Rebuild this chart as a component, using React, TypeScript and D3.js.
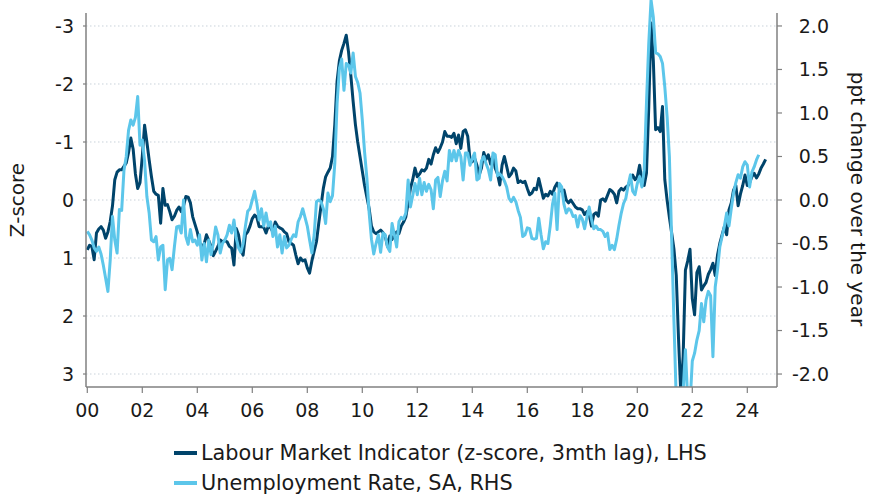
import React from "react";
import * as d3 from "d3";

const START_YEAR = 2000;

// Labour Market Indicator (z-score, 3mth lag), monthly from Jan 2000
const lmi: number[] = [
  0.86, 0.78, 0.8, 1.03, 0.57, 0.5, 0.46, 0.52, 0.66, 0.55, 0.37, 0.1,
  -0.35, -0.48, -0.52, -0.52, -0.58, -0.64, -0.82, -1.07, -0.88, -0.45, -0.2, -0.3,
  -0.75, -1.29, -1.0, -0.69, -0.4, -0.15, -0.1, -0.08, 0.4, -0.2, 0.09, 0.08,
  0.2, 0.34, 0.28, 0.18, 0.12, 0.2, 0.1, -0.06, -0.05, 0.05, 0.29, 0.42,
  0.55, 0.74, 0.8, 0.76, 0.6, 0.7, 0.8, 0.96, 0.88, 0.8, 0.69, 0.72,
  0.7, 0.72, 0.8, 0.83, 1.12, 0.49, 0.6, 0.86, 0.95, 0.6, 0.55, 0.45,
  0.32, 0.26, 0.3, 0.46, 0.46, 0.47, 0.57, 0.45, 0.48, 0.55, 0.38, 0.45,
  0.48, 0.5, 0.55, 0.58, 0.72, 0.75, 0.78, 0.95, 1.1, 1.0, 1.05, 1.03,
  1.17, 1.26, 1.05, 0.88, 0.72, 0.4, 0.1, -0.2, -0.4, -0.48, -0.55, -0.75,
  -1.3, -2.05, -2.4, -2.58, -2.7, -2.84, -2.55, -2.15, -1.7, -1.3, -1.0, -0.75,
  -0.5, -0.25, -0.05, 0.15, 0.45, 0.55, 0.58, 0.55, 0.52, 0.56, 0.62, 0.8,
  0.62, 0.68, 0.6, 0.55, 0.58, 0.45, 0.38, 0.29, 0.05, -0.2, -0.35, -0.55,
  -0.4, -0.45, -0.52, -0.5, -0.55, -0.7, -0.62, -0.78, -0.9, -0.82, -0.9, -1.0,
  -1.18, -1.1, -1.1, -1.08, -1.15, -0.97, -1.12, -0.89, -1.18, -1.21, -1.1, -0.7,
  -0.66, -0.72, -0.6, -0.43, -0.55, -0.82, -0.7, -0.78, -0.62, -0.75, -0.55, -0.45,
  -0.26, -0.6, -0.75, -0.58, -0.4, -0.45, -0.55, -0.5, -0.3, -0.33, -0.3, -0.32,
  -0.2, -0.09, -0.12, -0.2, -0.18, -0.37, -0.2, -0.03, -0.1, -0.07, -0.15, -0.1,
  -0.22, -0.29, -0.2, -0.15, -0.17, 0.0, 0.05, 0.0, 0.06, 0.12, 0.15, 0.15,
  0.17, 0.25, 0.2, 0.25, 0.45, 0.25, 0.22, 0.28, 0.0, -0.02, 0.02, -0.08,
  -0.18, -0.15, -0.1, 0.05, -0.15, -0.2, -0.17, -0.22, -0.25, -0.35, -0.43, -0.35,
  -0.4, -0.6, -0.34, -0.25, -0.46, -1.6, -3.05, -2.4, -1.21, -1.25, -1.18, -1.61,
  -0.35, 0.0, 0.3, 0.57, 0.85, 1.3, 2.4, 3.35, 2.7, 1.21, 1.05, 0.85,
  1.7, 1.98, 1.25, 1.15, 1.55, 1.48, 1.42, 1.28, 1.2, 1.09, 1.3, 0.95,
  0.75, 0.6, 0.46, 0.6, 0.17, 0.05, -0.17, -0.25, 0.1, -0.1, -0.25, -0.43,
  -0.25, -0.3, -0.4, -0.46, -0.38, -0.45, -0.55, -0.62, -0.7,
];

// Unemployment rate, SA, ppt change over the year, monthly from Jan 2000
const unemp: number[] = [
  -0.36, -0.4, -0.46, -0.55, -0.59, -0.54, -0.62, -0.75, -0.9, -1.05, -0.69, -0.19,
  -0.46, -0.61, -0.11, -0.12, 0.34, 0.5, 0.8, 0.92, 0.86, 0.95, 1.19, 0.63,
  0.69, 0.45, 0.04, -0.15, -0.46, -0.48, -0.42, -0.69, -0.54, -0.52, -1.03, -0.69,
  -0.67, -0.8, -0.54, -0.31, -0.3, -0.38, 0.0, -0.42, -0.51, -0.34, -0.48, -0.46,
  -0.52, -0.4, -0.69, -0.5, -0.71, -0.46, -0.63, -0.5, -0.31, -0.4, -0.61, -0.5,
  -0.46, -0.4, -0.29, -0.38, -0.23, -0.44, -0.55, -0.6, -0.5, -0.3, -0.13, -0.1,
  0.0, 0.1, -0.04, -0.23, -0.1, -0.3, -0.15, -0.3, -0.25, -0.42, -0.3, -0.54,
  -0.4, -0.61, -0.42, -0.55, -0.52, -0.45, -0.4, -0.42, -0.25, -0.19, -0.1, -0.2,
  -0.3, -0.46, -0.61, -0.4, -0.02, 0.0, -0.02, -0.1, -0.27, 0.08, -0.02, 0.05,
  0.42, 1.11, 1.51, 1.62, 1.26, 1.57, 1.55, 1.46, 1.69, 1.42, 1.35, 1.23,
  0.92, 0.55, 0.25, -0.15, -0.45, -0.62, -0.5, -0.4, -0.6, -0.38, -0.4, -0.54,
  -0.59, -0.27, -0.4, -0.54, -0.25, -0.2, -0.22, -0.15, 0.23, -0.08, 0.05, 0.19,
  0.06, 0.25, 0.06, 0.2, 0.1, 0.18, 0.12, -0.1, 0.23, 0.26, 0.04, 0.22,
  0.33, 0.22, 0.57, 0.45, 0.57, 0.45, 0.57, 0.5, 0.23, 0.54, 0.54, 0.4,
  0.48, 0.54, 0.23, 0.25, 0.45, 0.5, 0.42, 0.35, 0.23, 0.54, 0.52, 0.28,
  0.3, 0.27, 0.22, 0.15, 0.02, -0.02, 0.03, -0.02, -0.12, -0.2, -0.42, -0.4,
  -0.32, -0.33, -0.44, -0.45, -0.44, -0.21, -0.4, -0.56, -0.48, -0.5, -0.3, -0.05,
  0.08, -0.34, 0.19, 0.15, -0.05, -0.15, -0.1, -0.12, -0.19, -0.18, -0.31, -0.18,
  -0.22, -0.33, -0.2, -0.08, -0.22, -0.33, -0.3, -0.34, -0.34, -0.36, -0.42, -0.38,
  -0.57, -0.52, -0.57, -0.45, -0.29, -0.15, -0.04, 0.02, 0.17, 0.29, 0.1, 0.06,
  0.19, 0.27, 0.15, 0.34, 1.11, 1.8, 2.3, 2.1, 1.69, 1.68, 1.65, 1.57,
  1.3, 0.96, 0.5, -0.45, -1.4, -2.3, -2.5, -2.45, -2.2, -1.72, -2.3, -2.35,
  -1.85, -1.76, -1.61, -1.5, -1.19, -1.4, -1.15, -1.05, -1.1, -1.8, -1.0, -0.8,
  -0.54, -0.42, -0.3, -0.15, -0.3, -0.1, 0.08, 0.2, 0.29, 0.25, 0.38, 0.44,
  0.4, 0.15, 0.32, 0.38, 0.46, 0.52,
];

const xTickYears = [2000, 2002, 2004, 2006, 2008, 2010, 2012, 2014, 2016, 2018, 2020, 2022, 2024];
const leftTicks = [-3, -2, -1, 0, 1, 2, 3];
const rightTicks = [2, 1.5, 1, 0.5, 0, -0.5, -1, -1.5, -2];
const seriesLabels = [
  "Labour Market Indicator (z-score, 3mth lag), LHS",
  "Unemployment Rate, SA, RHS",
];
const leftTitle = "Z-score";
const rightTitle = "ppt change over the year";

const W = 869;
const H = 494;
const PL = 86;
const PR = 777;
const PT = 13;
const PB = 387;
const DARK = "#00446b";
const LIGHT = "#5cc6ea";
const FONT = "'DejaVu Sans', Verdana, sans-serif";
const TEXT = "#1a1a1a";
const AXIS = "#808080";

export default function App() {
  const x = d3.scaleLinear().domain([1999.953, 2025.08]).range([PL, PR]);
  const yL = d3.scaleLinear().domain([-3.224, 3.224]).range([PT, PB]);
  const yR = d3.scaleLinear().domain([2.149, -2.149]).range([PT, PB]);

  const lineL = d3
    .line<number>()
    .x((_, i) => x(START_YEAR + i / 12))
    .y((d) => yL(d));
  const lineR = d3
    .line<number>()
    .x((_, i) => x(START_YEAR + i / 12))
    .y((d) => yR(d));

  return (
    <svg
      width={W}
      height={H}
      style={{ position: "fixed", left: 0, top: 0, background: "#fff" }}
      fontFamily={FONT}
    >
      <defs>
        <clipPath id="plot-clip">
          <rect x={PL} y={0} width={PR - PL} height={PB} />
        </clipPath>
      </defs>

      {/* gridlines */}
      {leftTicks.map((t) => (
        <line
          key={"g" + t}
          x1={PL}
          x2={PR}
          y1={yL(t)}
          y2={yL(t)}
          stroke="#c9d2da"
          strokeWidth={1}
          strokeDasharray="1.5,2.5"
        />
      ))}

      {/* series */}
      <g clipPath="url(#plot-clip)">
        <path d={lineL(lmi) || ""} fill="none" stroke={DARK} strokeWidth={3} strokeLinejoin="round" />
        <path d={lineR(unemp) || ""} fill="none" stroke={LIGHT} strokeWidth={3} strokeLinejoin="round" />
      </g>

      {/* axes lines */}
      <line x1={PL} x2={PL} y1={PT} y2={PB} stroke={AXIS} strokeWidth={1.5} />
      <line x1={PR} x2={PR} y1={PT} y2={PB} stroke={AXIS} strokeWidth={1.5} />
      <line x1={PL} x2={PR} y1={PB} y2={PB} stroke={AXIS} strokeWidth={1.5} />

      {/* left ticks */}
      {leftTicks.map((t) => (
        <g key={"l" + t}>
          <line x1={PL - 3} x2={PL} y1={yL(t)} y2={yL(t)} stroke={AXIS} strokeWidth={1.2} />
          <text x={74} y={yL(t)} dy="0.36em" textAnchor="end" fontSize={19} fill={TEXT}>
            {String(t)}
          </text>
        </g>
      ))}

      {/* right ticks */}
      {rightTicks.map((t) => (
        <g key={"r" + t}>
          <line x1={PR} x2={PR + 5} y1={yR(t)} y2={yR(t)} stroke={AXIS} strokeWidth={1.2} />
          <text x={829} y={yR(t)} dy="0.36em" textAnchor="end" fontSize={19} fill={TEXT}>
            {t.toFixed(1)}
          </text>
        </g>
      ))}

      {/* x ticks */}
      {xTickYears.map((yr) => (
        <g key={"x" + yr}>
          <line x1={x(yr)} x2={x(yr)} y1={PB} y2={PB + 6} stroke={AXIS} strokeWidth={1.2} />
          <text x={x(yr)} y={417} textAnchor="middle" fontSize={19} fill={TEXT}>
            {String(yr % 100).padStart(2, "0")}
          </text>
        </g>
      ))}

      {/* axis titles */}
      <text
        transform={`translate(24,200) rotate(-90)`}
        textAnchor="middle"
        fontSize={20}
        fill={TEXT}
      >
        {leftTitle}
      </text>
      <text
        transform={`translate(851,199) rotate(90)`}
        textAnchor="middle"
        fontSize={20}
        fill={TEXT}
      >
        {rightTitle}
      </text>

      {/* legend */}
      {seriesLabels.map((lab, i) => {
        const cy = 453 + i * 30;
        return (
          <g key={"lg" + i}>
            <line x1={174} x2={197} y1={cy} y2={cy} stroke={i === 0 ? DARK : LIGHT} strokeWidth={4} />
            <text x={201} y={cy} dy="0.36em" fontSize={20.8} fill={TEXT}>
              {lab}
            </text>
          </g>
        );
      })}
    </svg>
  );
}
